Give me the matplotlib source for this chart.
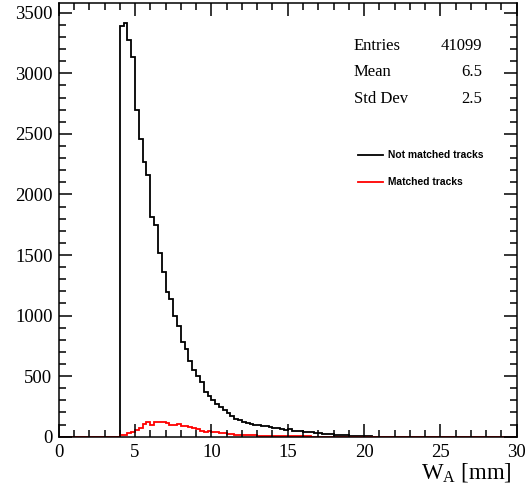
import numpy as np
import matplotlib
matplotlib.use("Agg")
import matplotlib.pyplot as plt
from matplotlib.ticker import MultipleLocator

plt.rcParams["mathtext.fontset"] = "custom"
plt.rcParams["mathtext.rm"] = "Liberation Serif"
plt.rcParams["mathtext.it"] = "Liberation Serif:italic"

# Histogram binning: 120 bins of 0.25 mm between 0 and 30 mm
bin_edges = np.linspace(0.0, 30.0, 121)

# Counts per bin, tracks not matched (black)
not_matched = (
    [0] * 16 +  # 0 - 4 mm: empty
    [3390, 3413, 3273, 3137, 2697, 2454, 2264, 2158,
     1816, 1750, 1517, 1360, 1194, 1136, 995, 912,
     779, 721, 622, 547, 498, 448, 373, 332,
     300, 270, 245, 220, 195, 170, 150, 140,
     125, 110, 105, 100, 95, 90, 85, 80,
     75, 70, 60, 55, 65, 50, 45, 45,
     40, 35, 35, 30, 28, 25, 22, 20,
     16, 14, 12, 10, 7, 5, 4, 3,
     2, 2, 1, 1] +
    [0] * 36
)

# Counts per bin, matched tracks (red)
matched = (
    [0] * 16 +
    [10, 18, 28, 35, 55, 70, 105, 125,
     100, 118, 122, 120, 112, 100, 95, 102,
     90, 88, 82, 72, 60, 45, 42, 44,
     38, 35, 30, 32, 25, 22, 18, 15,
     14, 12, 12, 10, 9, 8, 9, 7,
     6, 5, 6, 4, 4, 3, 3, 2,
     2, 2, 1] +
    [0] * 53
)

stats_labels = ["Entries", "Mean", "Std Dev"]
stats_values = ["41099", "6.5", "2.5"]
legend_labels = ["Not matched tracks", "Matched tracks"]

W, H = 528, 495
fig = plt.figure(figsize=(W / 100, H / 100), dpi=100)
ax = fig.add_axes([58.7 / W, 1 - 436.7 / H, (516.7 - 58.7) / W, (436.7 - 2.7) / H])

ax.stairs(not_matched, bin_edges, baseline=0, color="black", lw=1.3)
ax.stairs(matched, bin_edges, baseline=0, color="#ff0000", lw=1.3)

ax.set_xlim(0, 30)
ax.set_ylim(0, 3583)

ax.xaxis.set_major_locator(MultipleLocator(5))
ax.xaxis.set_minor_locator(MultipleLocator(1))
ax.yaxis.set_major_locator(MultipleLocator(500))
ax.yaxis.set_minor_locator(MultipleLocator(100))
ax.tick_params(which="both", direction="in", top=True, right=True, width=1.1, color="black")
ax.tick_params(which="major", length=9.4)
ax.tick_params(which="minor", length=4.7)
ax.tick_params(axis="y", which="major", pad=4.5)
ax.tick_params(axis="x", which="major", pad=5)
for lab in ax.get_xticklabels() + ax.get_yticklabels():
    lab.set_fontfamily("Liberation Serif")
    lab.set_fontsize(13.5)
for sp in ax.spines.values():
    sp.set_linewidth(1.1)

# Axis title
fig.text(512 / W, 1 - 478 / H, r"$\mathrm{W}_{\mathrm{A}}$ [mm]",
         ha="right", va="baseline", fontsize=16.5, family="Liberation Serif")

# Statistics box
for i, (lab, val) in enumerate(zip(stats_labels, stats_values)):
    yb = 1 - (50 + 26.5 * i) / H
    fig.text(354 / W, yb, lab, ha="left", va="baseline", fontsize=12, family="Liberation Serif")
    fig.text(482 / W, yb, val, ha="right", va="baseline", fontsize=12, family="Liberation Serif")

# Legend
for i, (lab, col) in enumerate(zip(legend_labels, ["black", "#ff0000"])):
    yl = 1 - (155 + 26.7 * i) / H
    fig.add_artist(plt.Line2D([358 / W, 383 / W], [yl, yl], color=col, lw=1.3,
                              transform=fig.transFigure))
    fig.text(388 / W, yl, lab, ha="left", va="center", fontsize=7.4,
             family="Liberation Sans", fontweight="bold")

fig.savefig("out.png", dpi=100)
